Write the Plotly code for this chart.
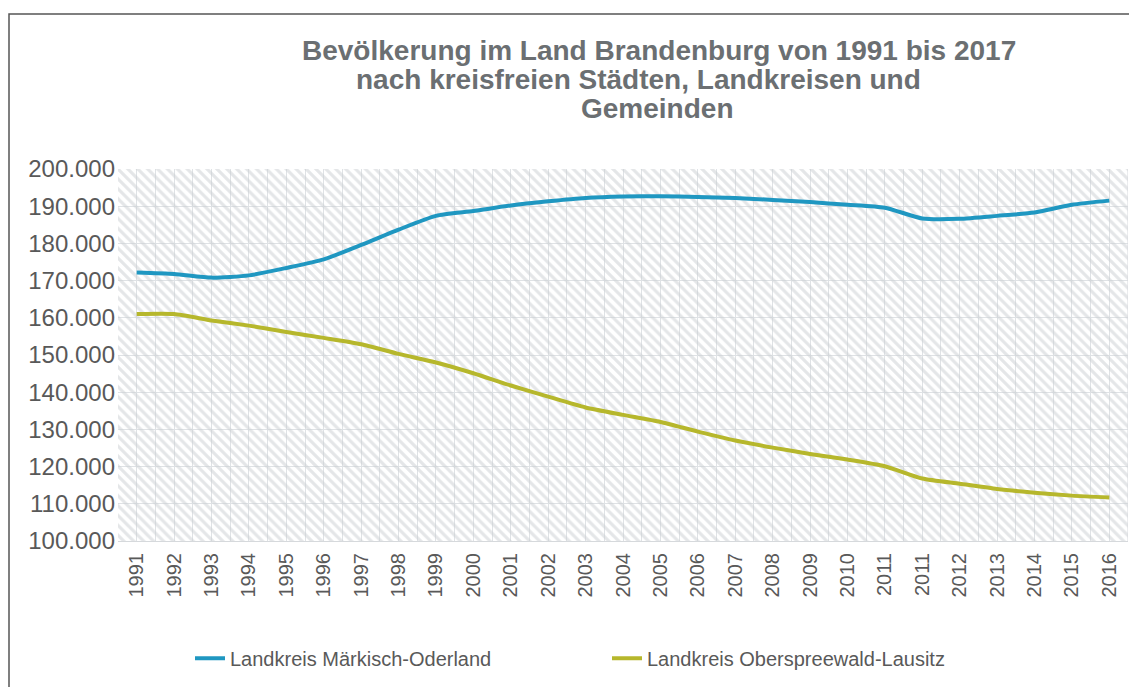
import plotly.graph_objects as go

years = ["1991", "1992", "1993", "1994", "1995", "1996", "1997", "1998", "1999", "2000",
         "2001", "2002", "2003", "2004", "2005", "2006", "2007", "2008", "2009", "2010",
         "2011", "2011", "2012", "2013", "2014", "2015", "2016"]

maerkisch_oderland = [172200, 171800, 170800, 171400, 173400, 175700, 179600, 183700, 187400, 188700,
                      190200, 191300, 192200, 192600, 192700, 192500, 192200, 191700, 191100, 190400,
                      189600, 186700, 186600, 187400, 188300, 190400, 191500]

oberspreewald_lausitz = [161000, 161000, 159300, 157900, 156200, 154600, 152900, 150300, 148000, 145100,
                         141800, 138800, 135900, 133900, 132000, 129400, 127000, 125100, 123400, 121900,
                         120100, 116800, 115400, 114000, 113000, 112200, 111700]

series_names = ["Landkreis Märkisch-Oderland", "Landkreis Oberspreewald-Lausitz"]
series_colors = ["#1f97c1", "#b6b72c"]

title_lines = ["Bevölkerung im Land Brandenburg von 1991 bis 2017",
               "nach kreisfreien Städten, Landkreisen und",
               "Gemeinden"]

y_min, y_max = 100000, 200000
x_pos = list(range(len(years)))
x_lo, x_hi = -0.5, len(years) - 0.5

FONT = "Liberation Sans, Arial, sans-serif"
TXT = "#595959"
GRID = "#dfe2e5"

# figure geometry (page body adds an 8px offset)
W, H = 1129, 679
L, R, T, B = 110, 9, 161, 134
PW, PH = W - L - R, H - T - B


def px_x(sx):  # screen x -> paper x
    return (sx - 8 - L) / PW


def px_y(sy):  # screen y -> paper y
    return (H - B - (sy - 8)) / PH


fig = go.Figure()

# hatched plot background
fig.add_trace(go.Scatter(
    x=[x_lo, x_hi, x_hi, x_lo, x_lo], y=[y_min, y_min, y_max, y_max, y_min],
    mode="none", fill="toself", fillcolor="rgba(0,0,0,0)",
    fillpattern=dict(shape="\\", size=7, solidity=0.45, fgcolor="#c9cdd1", bgcolor="rgba(0,0,0,0)"),
    showlegend=False, hoverinfo="skip"))

for name, vals, col in zip(series_names, [maerkisch_oderland, oberspreewald_lausitz], series_colors):
    fig.add_trace(go.Scatter(
        x=x_pos, y=vals, name=name, mode="lines",
        line=dict(color=col, width=4, shape="spline", smoothing=0.6)))

title_centers = [659, 638, 657]
title_ys = [47, 77, 107]
annotations = [dict(text="<b>%s</b>" % t, xref="paper", yref="paper",
                    x=px_x(cx), y=px_y(cy), xanchor="center", yanchor="middle",
                    showarrow=False, font=dict(family=FONT, size=28, color="#6b6f72"))
               for t, cx, cy in zip(title_lines, title_centers, title_ys)]

fig.update_layout(
    width=W, height=H,
    paper_bgcolor="white", plot_bgcolor="white",
    margin=dict(l=L, r=R, t=T, b=B),
    separators=",.",
    font=dict(family=FONT, color=TXT, size=20),
    annotations=annotations,
    showlegend=True,
    legend=dict(orientation="h", x=px_x(190), xanchor="left",
                y=px_y(654), yanchor="top",
                font=dict(size=20, color=TXT, family=FONT),
                entrywidth=372, entrywidthmode="pixels",
                bgcolor="rgba(0,0,0,0)"),
    xaxis=dict(
        range=[x_lo, x_hi], tickmode="array", tickvals=x_pos, ticktext=years,
        tickangle=-90, showgrid=True, gridcolor=GRID, gridwidth=1,
        minor=dict(tickmode="array", tickvals=[i + 0.5 for i in range(-1, len(years))],
                   showgrid=True, gridcolor=GRID, gridwidth=1, ticks=""),
        showline=True, linecolor="#d6d9dc", linewidth=1,
        zeroline=False, ticks="", ticklabelstandoff=3,
        tickfont=dict(size=20, color=TXT, family=FONT)),
    yaxis=dict(
        range=[y_min, y_max], dtick=10000, tickformat=",d",
        showgrid=True, gridcolor=GRID, gridwidth=1,
        zeroline=False, showline=False, ticks="", ticklabelstandoff=2,
        tickfont=dict(size=24, color=TXT, family=FONT)),
    shapes=[
        dict(type="line", xref="x", yref="paper", x0=x_hi, x1=x_hi, y0=0, y1=1,
             line=dict(color="#d6d9dc", width=1)),
        dict(type="rect", xref="paper", yref="paper",
             x0=-(L - 1) / PW, x1=px_x(1133),
             y0=px_y(720), y1=(PH + T - 1) / PH,
             line=dict(color="#555555", width=1.5), fillcolor="rgba(0,0,0,0)", layer="below"),
    ],
)

fig.write_html("out.html")
